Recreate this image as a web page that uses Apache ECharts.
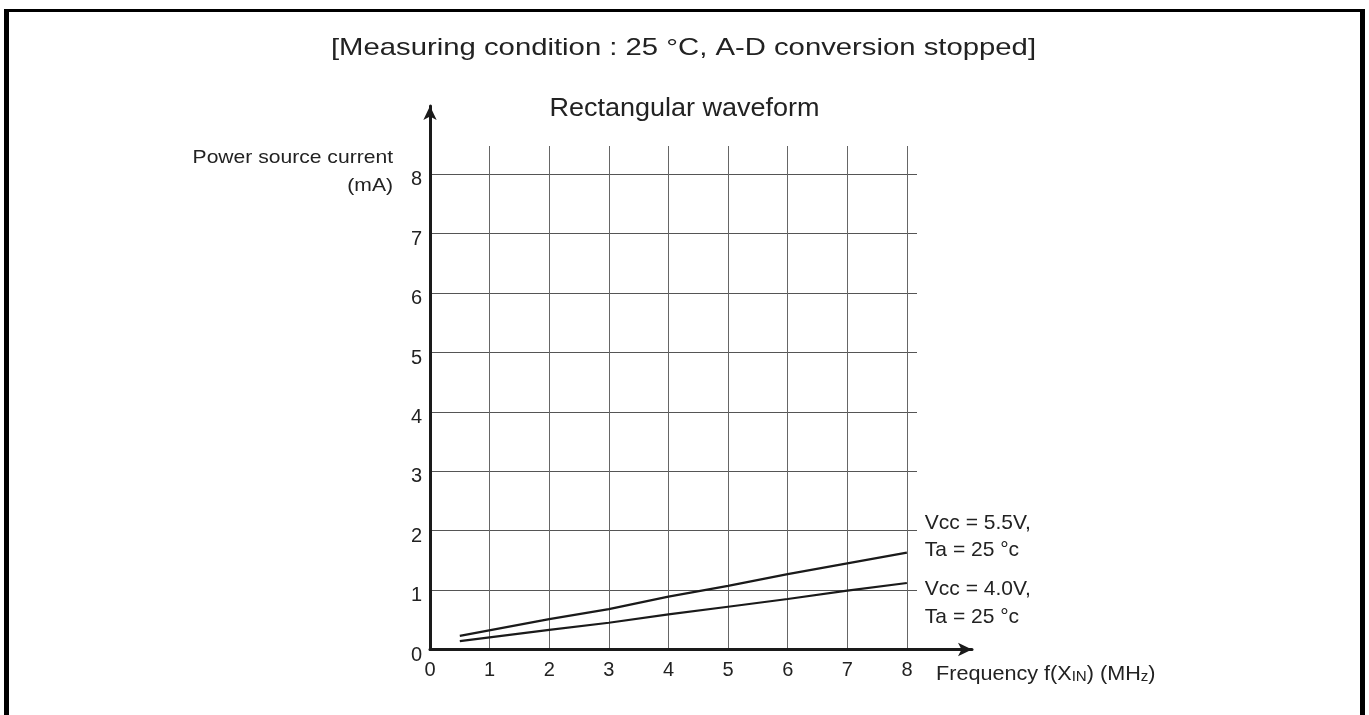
<!DOCTYPE html>
<html>
<head>
<meta charset="utf-8">
<script src="https://cdn.jsdelivr.net/npm/echarts@6/dist/echarts.min.js"></script>
<style>
html,body{margin:0;padding:0;background:#fff;}
#main{width:1369px;height:715px;}
</style>
</head>
<body>
<div id="main"></div>
<script>
// ---- data ----
const freq = [0.5, 2, 3, 4, 5, 6, 7, 8];               // MHz
const vcc55 = [0.23, 0.51, 0.68, 0.89, 1.07, 1.27, 1.45, 1.63]; // mA
const vcc40 = [0.14, 0.33, 0.45, 0.59, 0.72, 0.85, 0.99, 1.12]; // mA
const seriesNames = ['Vcc = 5.5V,\nTa = 25 °c', 'Vcc = 4.0V,\nTa = 25 °c'];
const xTicks = [0, 1, 2, 3, 4, 5, 6, 7, 8];
const yTicks = [0, 1, 2, 3, 4, 5, 6, 7, 8];
const titleText = '[Measuring condition : 25 °C, A-D conversion stopped]';
const subTitleText = 'Rectangular waveform';
const yName = 'Power source current\n(mA)';
const xName = 'Frequency f(X{s|IN}) (MH{s|z})';

const FONT = '"Liberation Sans", Arial, Helvetica, sans-serif';
const chart = echarts.init(document.getElementById('main'), null, {renderer: 'canvas'});

const toPairs = (xs, ys) => xs.map((x, i) => [x, ys[i]]);
const lblFmt = (ticks) => (v) => (ticks.indexOf(Math.round(v * 1000) / 1000) >= 0 ? '{t|' + v + '}' : '');

const option = {
  backgroundColor: '#ffffff',
  animation: false,
  grid: [
    {left: 430, top: 146, width: 487, height: 503.5, containLabel: false},
    {left: 430, top: 106, width: 542, height: 543.5, containLabel: false}
  ],
  xAxis: [
    {
      type: 'value', gridIndex: 0, min: 0, max: 8.17, interval: 1,
      axisLine: {show: false}, axisTick: {show: false}, axisLabel: {show: false},
      splitLine: {show: true, showMinLine: false, showMaxLine: false, lineStyle: {color: '#666', width: 1}}
    },
    {
      type: 'value', gridIndex: 1, min: 0, max: 9.09, interval: 1,
      axisLine: {show: true, symbol: ['none', 'arrow'], symbolSize: [10, 14],
        lineStyle: {color: '#1a1a1a', width: 3}},
      axisTick: {show: false},
      splitLine: {show: false},
      axisLabel: {show: true, margin: 11, color: '#222', fontSize: 20, fontFamily: FONT,
        formatter: lblFmt(xTicks), showMaxLabel: true, showMinLabel: true,
        rich: {t: {fontSize: 20, fontFamily: FONT, color: '#222'}}}
    }
  ],
  yAxis: [
    {
      type: 'value', gridIndex: 0, min: 0, max: 8.476, interval: 1,
      axisLine: {show: false}, axisTick: {show: false}, axisLabel: {show: false},
      splitLine: {show: true, showMinLine: false, showMaxLine: false, lineStyle: {color: '#555', width: 1}}
    },
    {
      type: 'value', gridIndex: 1, min: 0, max: 9.15, interval: 1,
      axisLine: {show: true, symbol: ['none', 'arrow'], symbolSize: [10, 14],
        lineStyle: {color: '#1a1a1a', width: 3}},
      axisTick: {show: false},
      splitLine: {show: false},
      axisLabel: {show: true, margin: 8, color: '#222', fontSize: 20, fontFamily: FONT,
        formatter: lblFmt(yTicks), showMaxLabel: true, showMinLabel: true,
        rich: {t: {fontSize: 20, fontFamily: FONT, color: '#222', padding: [11, 0, 0, 0]}}}
    }
  ],
  series: [
    {
      name: seriesNames[0], type: 'line', xAxisIndex: 0, yAxisIndex: 0,
      data: toPairs(freq, vcc55), showSymbol: false, smooth: false,
      lineStyle: {color: '#1a1a1a', width: 2.2}, z: 5,
      endLabel: {show: true, formatter: seriesNames[0], color: '#222', fontSize: 21,
        fontFamily: FONT, lineHeight: 27, align: 'left', offset: [10, -16]}
    },
    {
      name: seriesNames[1], type: 'line', xAxisIndex: 0, yAxisIndex: 0,
      data: toPairs(freq, vcc40), showSymbol: false, smooth: false,
      lineStyle: {color: '#1a1a1a', width: 2.2}, z: 5,
      endLabel: {show: true, formatter: seriesNames[1], color: '#222', fontSize: 21,
        fontFamily: FONT, lineHeight: 28, align: 'left', offset: [10, 20]}
    }
  ],
  graphic: [
    // frame
    {type: 'rect', shape: {x: 4, y: 9, width: 5, height: 706}, style: {fill: '#000'}},
    {type: 'rect', shape: {x: 4, y: 9, width: 1361, height: 3}, style: {fill: '#000'}},
    {type: 'rect', shape: {x: 1360, y: 9, width: 5, height: 706}, style: {fill: '#000'}},
    // titles
    {type: 'text', x: 683.5, y: 48, scaleX: 1.22,
      style: {text: titleText, font: '24px ' + FONT, fill: '#222', align: 'center', verticalAlign: 'middle'}},
    {type: 'text', x: 684.5, y: 109, scaleX: 1.08,
      style: {text: subTitleText, font: '25px ' + FONT, fill: '#222', align: 'center', verticalAlign: 'middle'}},
    // y axis name
    {type: 'text', x: 393, y: 172, scaleX: 1.11,
      style: {text: yName, font: '19px ' + FONT, fill: '#222', align: 'right', verticalAlign: 'middle', lineHeight: 28}},
    // x axis name
    {type: 'text', x: 936, y: 674, scaleX: 1.08,
      style: {text: xName, font: '20px ' + FONT, fill: '#222', align: 'left', verticalAlign: 'middle',
        rich: {s: {fontSize: 14, fontFamily: FONT, fill: '#222', verticalAlign: 'bottom'}}}}
  ]
};
chart.setOption(option);
</script>
</body>
</html>
